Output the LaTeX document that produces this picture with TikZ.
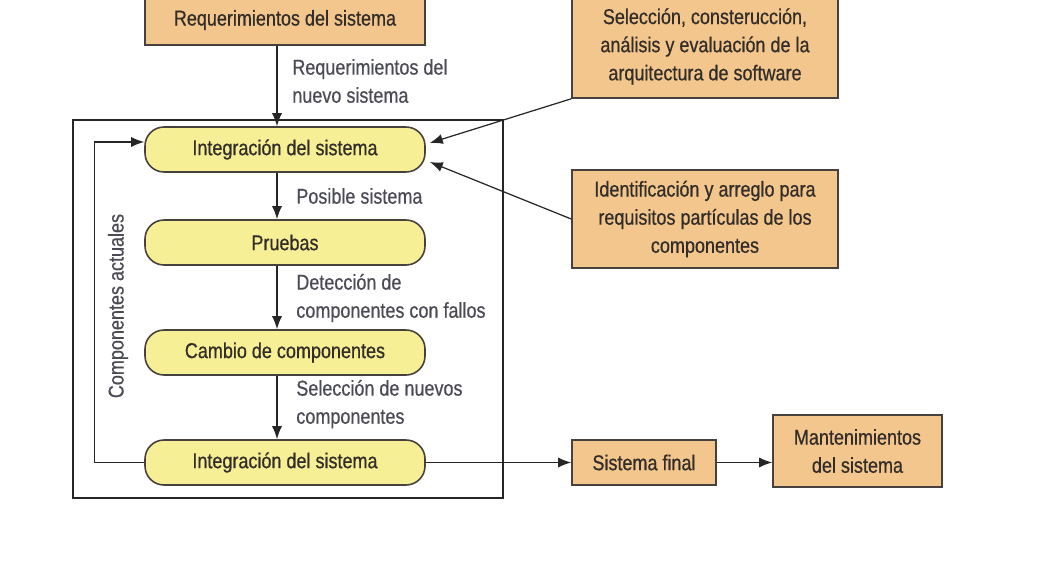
\documentclass[tikz,border=0pt]{standalone}
\usepackage{fontspec}
\setmainfont{Liberation Sans}[FakeStretch=0.84, FakeBold=0.6]
\usepackage{xcolor}
\usetikzlibrary{arrows.meta}

\definecolor{boxorange}{RGB}{243,198,142}
\definecolor{procyellow}{RGB}{246,239,150}
\definecolor{edgegray}{RGB}{70,65,60}
\definecolor{textdark}{RGB}{50,45,40}
\definecolor{labelgray}{RGB}{75,75,85}

\begin{document}
\begin{tikzpicture}[
    x=0.2mm, y=-0.2mm,
    font=\fontsize{12.2}{16}\selectfont,
    orbox/.style={rectangle, draw=edgegray, fill=boxorange, line width=0.9pt, text=textdark, align=center, inner sep=0pt},
    proc/.style={rectangle, rounded corners=0.38cm, draw=edgegray, fill=procyellow, line width=0.9pt, text=textdark, minimum width=5.6cm, minimum height=0.9cm, inner sep=0pt},
    lbl/.style={text=labelgray, align=left, inner sep=0pt},
    flow/.style={draw=black!85, line width=0.7pt, -{Latex[length=2.6mm, width=2mm]}}
]
    \useasboundingbox (0,0) rectangle (1045,575);

    % --- outer frame ---
    \node[rectangle, draw=black!85, line width=0.8pt, minimum width=8.6cm, minimum height=7.56cm, inner sep=0pt] (frame) at (288,309) {};

    % --- top input ---
    \node[orbox, minimum width=5.6cm, minimum height=1.0cm] (req) at (285,20) {Requerimientos del sistema};

    % --- process chain ---
    \node[proc] (int1) at (285,149.5) {Integración del sistema};
    \node[proc] (prue) at (285,242.5) {Pruebas};
    \node[proc] (camb) at (285,352.5) {Cambio de componentes};
    \node[proc] (int2) at (285,462.5) {Integración del sistema};
    \coordinate (axis) at (277,0);

    % --- right side boxes ---
    \node[orbox, minimum width=5.32cm, minimum height=2.06cm] (sel) at (705,46.5) {Selección, consterucción,\\análisis y evaluación de la\\arquitectura de software};
    \node[orbox, minimum width=5.32cm, minimum height=1.96cm] (ident) at (705,219) {Identificación y arreglo para\\requisitos partículas de los\\componentes};
    \node[orbox, minimum width=2.88cm, minimum height=0.9cm] (fin) at (644,462.5) {Sistema final};
    \node[orbox, minimum width=3.38cm, minimum height=1.44cm] (mant) at (857.5,451) {Mantenimientos\\del sistema};

    % --- labels ---
    \node[lbl, anchor=west] (l1) at (292,81) {Requerimientos del\\nuevo sistema};
    \node[lbl, anchor=west] (l2) at (296,196) {Posible sistema};
    \node[lbl, anchor=west] (l3) at (296,298) {Detección de\\componentes con fallos};
    \node[lbl, anchor=west] (l4) at (296,404) {Selección de nuevos\\componentes};
    \node[lbl, rotate=90] (l5) at (118,306) {Componentes actuales};

    % --- connections ---
    \draw[flow] (req.south -| axis) -- (int1.north -| axis);
    \draw[flow] (int1.south -| axis) -- (prue.north -| axis);
    \draw[flow] (prue.south -| axis) -- (camb.north -| axis);
    \draw[flow] (camb.south -| axis) -- (int2.north -| axis);
    \draw[flow] (int2.west) -- ++(-50,0) |- ([yshift=0.15cm]int1.west);
    \draw[flow] (sel.south west) -- ([xshift=0.08cm, yshift=0.13cm]int1.east);
    \draw[flow] (ident.west) -- ([xshift=0.08cm, yshift=-0.25cm]int1.east);
    \draw[flow] (int2.east) -- (fin.west);
    \draw[flow] (fin.east) -- (mant.west |- fin.east);
\end{tikzpicture}
\end{document}
